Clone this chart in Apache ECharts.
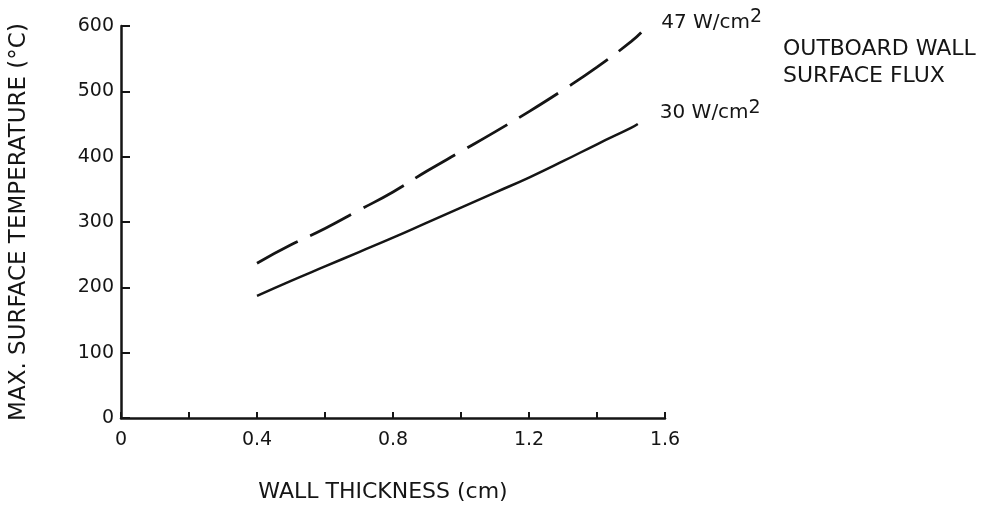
<!DOCTYPE html>
<html>
<head>
<meta charset="utf-8">
<script src="https://cdn.jsdelivr.net/npm/echarts@6/dist/echarts.min.js"></script>
<style>html,body{margin:0;padding:0;background:#fff}#c{width:998px;height:508px}</style>
</head>
<body>
<div id="c"></div>
<script>
// Wall thickness (cm)
const thickness = [0.4, 0.5, 0.6, 0.7, 0.8, 0.9, 1.0, 1.1, 1.2, 1.3, 1.4, 1.5, 1.53];
// Max surface temperature (°C), 47 W/cm2 (dashed)
const temp47 = [237, 265, 290, 318, 346, 378, 408, 438, 469, 502, 537, 576, 590];
const thickness30 = [0.4, 0.5, 0.6, 0.7, 0.8, 0.9, 1.0, 1.1, 1.2, 1.3, 1.4, 1.5, 1.52];
// Max surface temperature (°C), 30 W/cm2 (solid)
const temp30 = [187, 210, 232, 254, 276, 299, 322, 345, 368, 393, 419, 444, 450];
const xLabels = [0, 0.4, 0.8, 1.2, 1.6];
const yTicks = [0, 100, 200, 300, 400, 500, 600];

const FONT = 'DejaVu Sans';
const ink = '#151515';
const chart = echarts.init(document.getElementById('c'));

function pairs(xs, ys) { return xs.map((x, i) => [x, ys[i]]); }

const labelRich = {
  a: { fontFamily: FONT, fontSize: 20, color: ink },
  s: { fontFamily: FONT, fontSize: 19, color: ink, padding: [0, 0, 10, 0] }
};

chart.setOption({
  animation: false,
  backgroundColor: '#fff',
  grid: { left: 117, right: 333, top: 26, bottom: 81, containLabel: false },
  xAxis: {
    type: 'value', min: 0, max: 1.6, interval: 0.2,
    name: 'WALL THICKNESS (cm)', nameLocation: 'middle', nameGap: 63,
    nameTextStyle: { fontFamily: FONT, fontSize: 22, color: ink, padding: [0, 20, 0, 0] },
    axisLine: { lineStyle: { color: ink, width: 2.5 } },
    axisTick: { inside: true, length: 6, lineStyle: { color: ink, width: 2 } },
    axisLabel: {
      margin: 13, fontFamily: FONT, fontSize: 19, color: ink,
      formatter: v => { const r = xLabels.find(l => Math.abs(l - v) < 1e-6); return r === undefined ? '' : String(r); }
    },
    splitLine: { show: false }
  },
  yAxis: {
    type: 'value', min: 0, max: 600, interval: 100,
    name: 'MAX. SURFACE TEMPERATURE (°C)', nameLocation: 'middle', nameGap: 90,
    nameTextStyle: { fontFamily: FONT, fontSize: 23, color: ink },
    axisLine: { show: true, lineStyle: { color: ink, width: 2.5 } },
    axisTick: { show: true, inside: true, length: 9, lineStyle: { color: ink, width: 2 } },
    axisLabel: { margin: 7, fontFamily: FONT, fontSize: 19, color: ink,
      formatter: v => yTicks.includes(v) ? String(v) : '' },
    splitLine: { show: false }
  },
  graphic: [{
    type: 'text', left: 783, top: 36,
    style: { text: 'OUTBOARD WALL\nSURFACE FLUX', fontFamily: FONT, fontSize: 22, lineHeight: 27, fill: ink }
  }],
  series: [
    {
      type: 'line', data: pairs(thickness, temp47), smooth: true, symbol: 'none',
      lineStyle: { color: ink, width: 2.8, type: [46, 14] },
      endLabel: { show: true, distance: 0, offset: [20, -10], formatter: () => '{a|47 W/cm}{s|2}', rich: labelRich }
    },
    {
      type: 'line', data: pairs(thickness30, temp30), smooth: true, symbol: 'none',
      lineStyle: { color: ink, width: 2.5 },
      endLabel: { show: true, distance: 0, offset: [22, -11], formatter: () => '{a|30 W/cm}{s|2}', rich: labelRich }
    }
  ]
});
</script>
</body>
</html>
